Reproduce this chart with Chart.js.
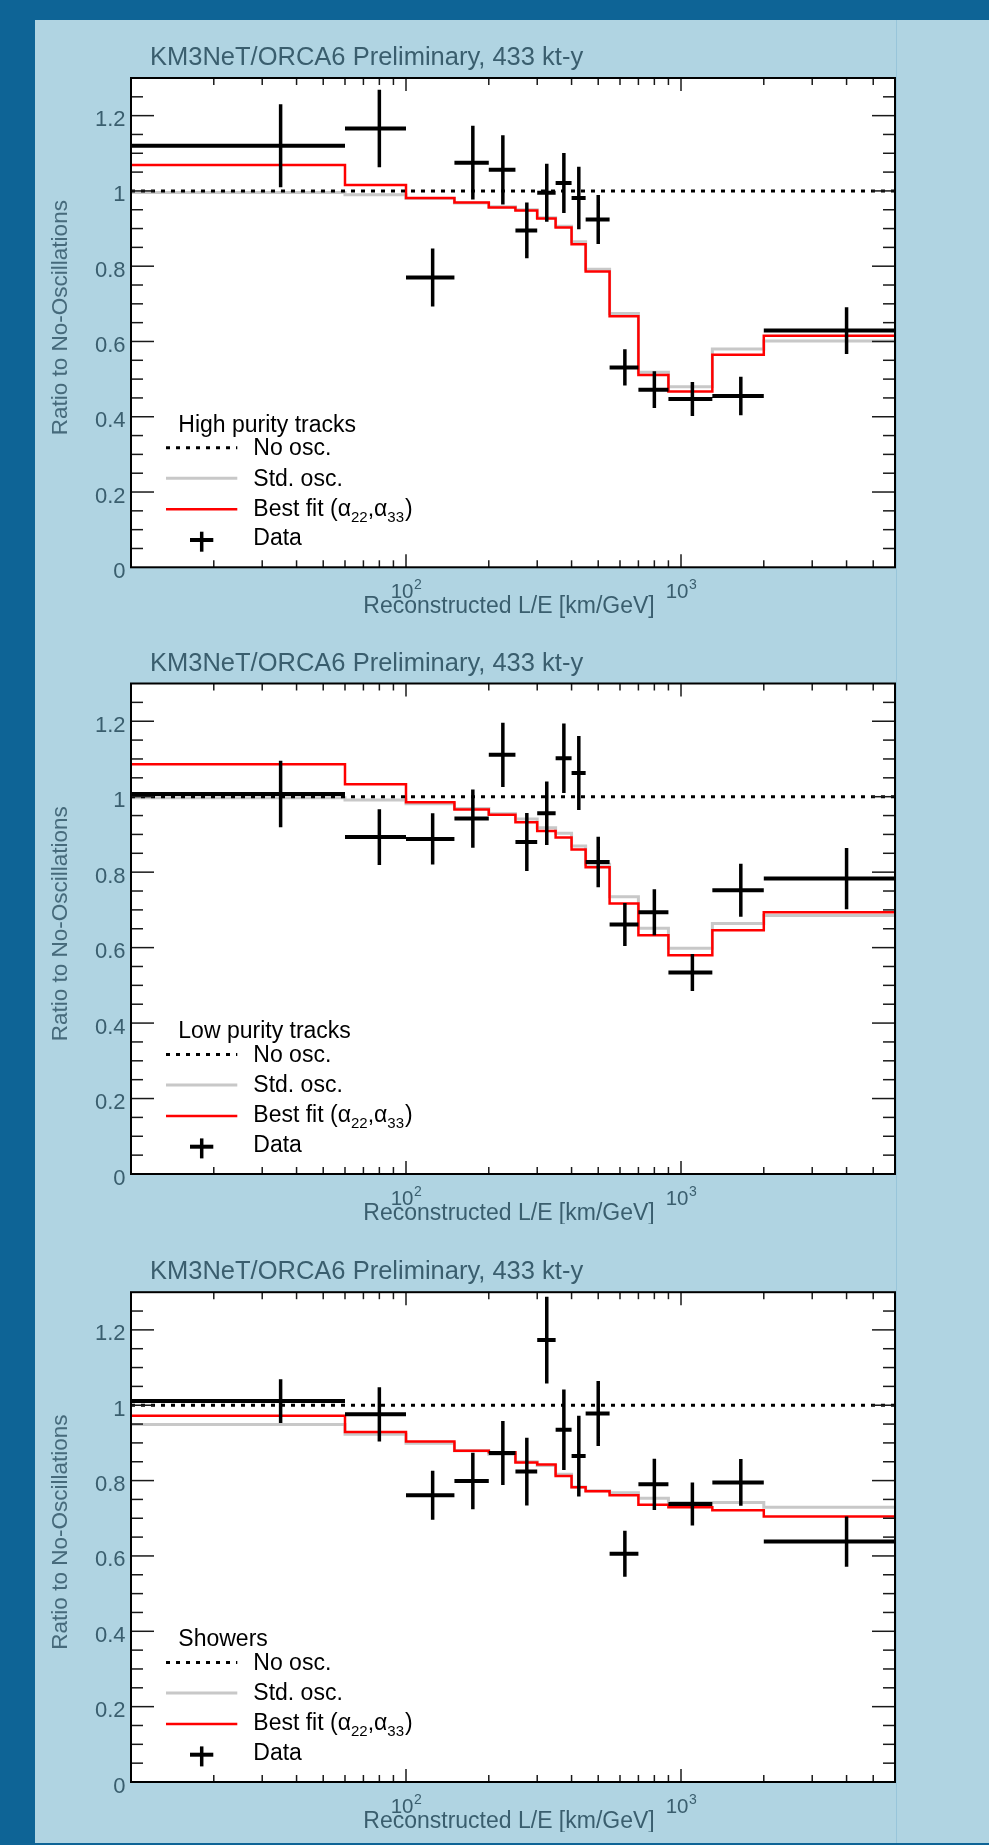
<!DOCTYPE html>
<html><head><meta charset="utf-8">
<script src="https://cdn.jsdelivr.net/npm/chart.js@4.4.1/dist/chart.umd.min.js"></script>
<style>
html,body{margin:0;padding:0;}
body{width:989px;height:1845px;background:#0e6496;position:relative;overflow:hidden;}
#panel{position:absolute;left:35px;top:20px;width:954px;height:1823px;background:#b0d4e2;}
#vline{position:absolute;left:896px;top:20px;width:1px;height:1823px;background:#98c5da;}
canvas{position:absolute;left:0;}
</style></head><body>
<div id="panel"></div><div id="vline"></div>
<canvas id="c1" width="989" height="600"></canvas>
<canvas id="c2" width="989" height="600"></canvas>
<canvas id="c3" width="989" height="600"></canvas>
<script>
// ---- data ----
const binEdges   = [10,60,100,150,200,250,300,350,400,450,550,700,900,1300,2000,6000];
const binCenters = [35,80,125,175,225,275,325,375,425,500,625,800,1100,1650,4000];
const yTickValues = [0,0.2,0.4,0.6,0.8,1,1.2];
const yTickLabels = ['0','0.2','0.4','0.6','0.8','1','1.2'];
const xTickValues = [100,1000];
const xTickBase = ['10','10'];
const xTickExp = ['2','3'];
const panelNames = ['High purity tracks','Low purity tracks','Showers'];
const noOscValue = 1;

const hpData = [1.120,1.166,0.770,1.075,1.056,0.895,0.995,1.021,0.981,0.924,0.531,0.472,0.447,0.455,0.629];
const hpErr  = [0.110,0.103,0.077,0.098,0.092,0.074,0.077,0.080,0.083,0.065,0.048,0.049,0.045,0.051,0.062];
const hpFit  = [1.069,1.016,0.981,0.969,0.956,0.948,0.927,0.903,0.858,0.786,0.667,0.511,0.467,0.565,0.615];
const hpStd  = [0.996,0.990,0.980,0.968,0.958,0.950,0.929,0.906,0.865,0.792,0.674,0.518,0.480,0.580,0.601];

const lpData = [1.007,0.893,0.888,0.942,1.111,0.880,0.956,1.102,1.063,0.827,0.661,0.694,0.534,0.752,0.783];
const lpErr  = [0.088,0.074,0.068,0.077,0.085,0.077,0.084,0.092,0.098,0.067,0.057,0.061,0.049,0.070,0.081];
const lpFit  = [1.086,1.033,0.985,0.966,0.952,0.932,0.909,0.892,0.860,0.813,0.717,0.633,0.580,0.646,0.694];
const lpStd  = [0.997,0.991,0.981,0.969,0.955,0.941,0.918,0.903,0.869,0.821,0.735,0.651,0.598,0.664,0.685];

const shData = [1.011,0.976,0.761,0.799,0.873,0.824,1.173,0.935,0.865,0.978,0.606,0.790,0.738,0.795,0.638];
const shErr  = [0.058,0.072,0.065,0.075,0.085,0.090,0.115,0.107,0.107,0.086,0.061,0.068,0.057,0.062,0.067];
const shFit  = [0.972,0.929,0.904,0.879,0.875,0.848,0.843,0.812,0.782,0.772,0.761,0.736,0.729,0.721,0.705];
const shStd  = [0.949,0.923,0.899,0.879,0.870,0.850,0.840,0.817,0.783,0.773,0.768,0.753,0.742,0.742,0.729];

// ---- helpers ----
const FONT = '"Liberation Sans", Arial, Helvetica, sans-serif';
const TXT = '#3a5e6e';
const TXT2 = '#466a7b';

function stepPoints(vals){
  const pts = vals.map((v,i)=>({x:binEdges[i], y:v}));
  pts.push({x:binEdges[binEdges.length-1], y:vals[vals.length-1]});
  return pts;
}
function hBars(vals){
  const pts=[];
  vals.forEach((v,i)=>{ pts.push({x:binEdges[i],y:v},{x:binEdges[i+1],y:v},{x:binCenters[i],y:null}); });
  return pts;
}
function vBars(vals,errs){
  const pts=[];
  vals.forEach((v,i)=>{ const c=binCenters[i]; pts.push({x:c,y:v-errs[i]},{x:c,y:v+errs[i]},{x:c,y:null}); });
  return pts;
}
function line(ctx,x1,y1,x2,y2){ctx.beginPath();ctx.moveTo(x1,y1);ctx.lineTo(x2,y2);ctx.stroke();}

const framePlugin = {
  id:'frame',
  beforeDraw(chart){
    const {ctx, chartArea:a} = chart;
    ctx.save(); ctx.fillStyle='#ffffff';
    ctx.fillRect(a.left,a.top,a.right-a.left,a.bottom-a.top); ctx.restore();
  },
  afterDraw(chart, args, opts){
    const {ctx, chartArea:a, scales:{x,y}} = chart;
    const L=a.left,R=a.right,T=a.top,B=a.bottom;
    ctx.save();
    // ticks
    ctx.strokeStyle='#1a1a1a'; ctx.lineWidth=1.5;
    const xs = x.min, xe = x.max;
    for (let d=10; d<=1000; d*=10){
      for (let m=1; m<=9; m++){
        const v=m*d; if (v<=xs || v>=xe) continue;
        const px=x.getPixelForValue(v); const len = (m===1)?13:7;
        line(ctx,px,B,px,B-len); line(ctx,px,T,px,T+len);
      }
    }
    for (let k=0; k<=26; k++){
      const v=k*0.05; if (v<=0 || v>=1.3) continue;
      const py=y.getPixelForValue(v); const len=(k%4===0)?23:12;
      line(ctx,L,py,L+len,py); line(ctx,R,py,R-len,py);
    }
    // frame
    ctx.strokeStyle='#000'; ctx.lineWidth=2;
    ctx.strokeRect(L,T,R-L,B-T);
    // y tick labels
    ctx.fillStyle=TXT; ctx.textBaseline='alphabetic'; ctx.textAlign='right';
    ctx.font=`22px ${FONT}`;
    yTickValues.forEach((v,i)=>{
      const py=y.getPixelForValue(v);
      ctx.fillText(yTickLabels[i], L-5.5, py+10.5);
    });
    // x tick labels (10^n)
    xTickValues.forEach((v,i)=>{
      const px=x.getPixelForValue(v);
      ctx.font=`20.5px ${FONT}`; const wb=ctx.measureText(xTickBase[i]).width;
      ctx.font=`14px ${FONT}`; const we=ctx.measureText(xTickExp[i]).width;
      const x0=px-(wb+we)/2;
      ctx.font=`20.5px ${FONT}`; ctx.textAlign='left'; ctx.fillText(xTickBase[i],x0,B+31);
      ctx.font=`14px ${FONT}`; ctx.fillText(xTickExp[i],x0+wb+0.5,B+22);
    });
    // axis titles
    ctx.font=`23px ${FONT}`; ctx.textAlign='center'; ctx.fillStyle=TXT;
    ctx.fillText('Reconstructed L/E [km/GeV]', 509, B+46);
    ctx.save(); ctx.translate(66.7,(T+B)/2-5); ctx.rotate(-Math.PI/2);
    ctx.font=`22.5px ${FONT}`; ctx.fillStyle=TXT2; ctx.fillText('Ratio to No-Oscillations',0,0); ctx.restore();
    // main title
    ctx.font=`25.5px ${FONT}`; ctx.textAlign='left'; ctx.fillStyle=TXT;
    ctx.fillText('KM3NeT/ORCA6 Preliminary, 433 kt-y', 150, T-13);
    // legend
    ctx.fillStyle='#000'; ctx.font=`23px ${FONT}`;
    ctx.fillText(opts.header, 178.3, B-135.6);
    ctx.fillText('No osc.', 253.3, B-112.3);
    ctx.fillText('Std. osc.', 253.3, B-81.6);
    let bx=253.3, by=B-51.6;
    const put=(s,f,dy)=>{ctx.font=`${f}px ${FONT}`; ctx.fillText(s,bx,by+dy); bx+=ctx.measureText(s).width;};
    put('Best fit (',23,0); put('α',23,0); put('22',15,6); put(',',23,0); put('α',23,0); put('33',15,6); bx+=1; put(')',23,0);
    ctx.fillText('Data', 253.3, B-22.3);
    // legend samples
    ctx.lineCap='butt';
    ctx.strokeStyle='#000'; ctx.lineWidth=3; ctx.setLineDash([4,6]); line(ctx,166,B-119.6,237.3,B-119.6); ctx.setLineDash([]);
    ctx.strokeStyle='#c8c8c8'; ctx.lineWidth=3; line(ctx,166,B-89,237.3,B-89);
    ctx.strokeStyle='#ff0000'; ctx.lineWidth=2.5; line(ctx,166,B-58,237.3,B-58);
    ctx.strokeStyle='#000'; ctx.lineWidth=4; line(ctx,190,B-27.3,213.3,B-27.3);
    ctx.lineWidth=3.5; line(ctx,201.7,B-35.6,201.7,B-15.6);
    ctx.restore();
  }
};

function makeChart(id, frameTop, frameBottom, header, data, err, fit, std){
  const canvasTop = Math.round(frameTop - 60);
  const cv = document.getElementById(id);
  cv.style.top = canvasTop+'px';
  return new Chart(cv, {
    type:'line',
    data:{datasets:[
      {label:'Data', data:hBars(data), borderColor:'#000', borderWidth:4, pointRadius:0, spanGaps:false, borderCapStyle:'butt'},
      {label:'Data error', data:vBars(data,err), borderColor:'#000', borderWidth:3.5, pointRadius:0, spanGaps:false, borderCapStyle:'butt'},
      {label:'No osc.', data:[{x:binEdges[0],y:noOscValue},{x:binEdges[binEdges.length-1],y:noOscValue}], borderColor:'#000', borderWidth:3, borderDash:[4,6], pointRadius:0},
      {label:'Best fit', data:stepPoints(fit), borderColor:'#ff0000', borderWidth:2.5, stepped:'before', pointRadius:0},
      {label:'Std. osc.', data:stepPoints(std), borderColor:'#c8c8c8', borderWidth:3, stepped:'before', pointRadius:0}
    ]},
    options:{
      responsive:false, devicePixelRatio:1, animation:false, events:[],
      layout:{padding:{left:131, right:94, top:frameTop-canvasTop, bottom:600-(frameBottom-canvasTop)}},
      plugins:{legend:{display:false}, tooltip:{enabled:false}, frame:{header}},
      scales:{
        x:{type:'logarithmic', min:binEdges[0], max:binEdges[binEdges.length-1],
           grid:{display:false, drawTicks:false}, border:{display:false}, ticks:{display:false},
           afterBuildTicks:s=>{s.ticks=xTickValues.map(v=>({value:v}));}, afterFit:s=>{s.height=0;}},
        y:{type:'linear', min:0, max:1.3,
           grid:{display:false, drawTicks:false}, border:{display:false}, ticks:{display:false},
           afterBuildTicks:s=>{s.ticks=yTickValues.map(v=>({value:v}));}, afterFit:s=>{s.width=0;}}
      }
    },
    plugins:[framePlugin]
  });
}

makeChart('c1', 78, 567.3, panelNames[0], hpData, hpErr, hpFit, hpStd);
makeChart('c2', 683.5, 1174, panelNames[1], lpData, lpErr, lpFit, lpStd);
makeChart('c3', 1292.2, 1782, panelNames[2], shData, shErr, shFit, shStd);
</script>
</body></html>
